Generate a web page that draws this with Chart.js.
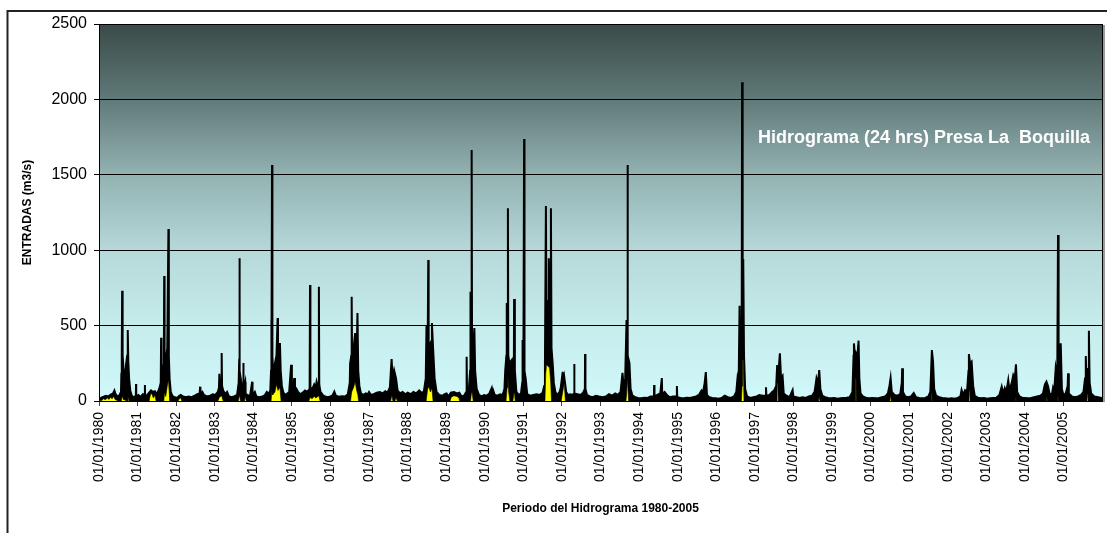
<!DOCTYPE html>
<html lang="es">
<head>
<meta charset="utf-8">
<title>Hidrograma Presa La Boquilla</title>
<script src="https://cdn.jsdelivr.net/npm/chart.js@4.4.0/dist/chart.umd.min.js"></script>
<style>
  html, body { margin: 0; padding: 0; background: #fff; }
  #marco { width: 1107px; height: 533px; }
</style>
</head>
<body>
<div id="marco"><canvas id="grafico"></canvas></div>
<script>
// años que llevan etiqueta en el eje X
const anios = [1980, 1981, 1982, 1983, 1984, 1985, 1986, 1987, 1988, 1989, 1990, 1991, 1992,
  1993, 1994, 1995, 1996, 1997, 1998, 1999, 2000, 2001, 2002, 2003, 2004, 2005];
const etiquetasX = anios.map(a => '01/01/' + a);

const entradas = [
  [1980.00, 8], [1980.06, 22], [1980.12, 28], [1980.18, 35], [1980.24, 30], [1980.30, 42], [1980.36, 48],
  [1980.40, 70], [1980.43, 45], [1980.48, 30], [1980.53, 38], [1980.57, 60], [1980.58, 180], [1980.59, 300],
  [1980.60, 731], [1980.605, 240], [1980.62, 305], [1980.64, 190], [1980.67, 150], [1980.70, 240], [1980.73, 300],
  [1980.745, 470], [1980.76, 260], [1980.78, 150], [1980.81, 70], [1980.85, 35], [1980.90, 25], [1980.955, 35],
  [1980.96, 113], [1980.965, 30], [1981.02, 40], [1981.08, 28], [1981.14, 45], [1981.185, 35], [1981.19, 106],
  [1981.195, 30], [1981.25, 40], [1981.30, 55], [1981.35, 70], [1981.40, 60], [1981.45, 65], [1981.50, 45],
  [1981.56, 80], [1981.60, 120], [1981.61, 420], [1981.62, 150], [1981.65, 194], [1981.68, 250], [1981.69, 829],
  [1981.70, 300], [1981.73, 272], [1981.77, 350], [1981.80, 1140], [1981.81, 300], [1981.83, 150], [1981.86, 60],
  [1981.90, 35], [1981.96, 25], [1982.03, 20], [1982.08, 35], [1982.12, 40], [1982.18, 30], [1982.25, 25],
  [1982.32, 30], [1982.40, 25], [1982.48, 35], [1982.55, 45], [1982.61, 50], [1982.62, 95], [1982.63, 40],
  [1982.68, 60], [1982.72, 40], [1982.80, 30], [1982.88, 35], [1982.95, 45], [1983.02, 40], [1983.08, 60],
  [1983.11, 90], [1983.12, 180], [1983.14, 80], [1983.175, 100], [1983.18, 318], [1983.19, 100], [1983.22, 70],
  [1983.27, 45], [1983.32, 60], [1983.36, 35], [1983.42, 25], [1983.50, 30], [1983.58, 40], [1983.62, 120],
  [1983.635, 280], [1983.64, 946], [1983.65, 200], [1983.69, 120], [1983.735, 90], [1983.74, 252], [1983.75, 80],
  [1983.79, 128], [1983.80, 50], [1983.86, 35], [1983.92, 40], [1983.97, 128], [1983.98, 40],
  [1984.04, 60], [1984.08, 30], [1984.16, 25], [1984.24, 30], [1984.30, 40], [1984.35, 60], [1984.40, 45],
  [1984.44, 70], [1984.46, 200], [1984.465, 537], [1984.475, 250], [1984.485, 1565], [1984.495, 300],
  [1984.52, 150], [1984.56, 250], [1984.60, 300], [1984.63, 550], [1984.64, 250], [1984.67, 300], [1984.69, 385],
  [1984.71, 200], [1984.74, 100], [1984.78, 55], [1984.83, 40], [1984.88, 50], [1984.93, 60], [1984.98, 240],
  [1985.00, 70], [1985.04, 90], [1985.06, 152], [1985.08, 60], [1985.12, 80], [1985.16, 60], [1985.22, 45],
  [1985.28, 55], [1985.34, 70], [1985.40, 60], [1985.46, 80], [1985.47, 769], [1985.48, 90], [1985.53, 80],
  [1985.58, 110], [1985.62, 90], [1985.64, 128], [1985.67, 100], [1985.695, 120], [1985.70, 758], [1985.71, 110],
  [1985.74, 60], [1985.80, 40], [1985.86, 30], [1985.93, 25],
  [1986.00, 30], [1986.06, 40], [1986.10, 62], [1986.14, 35], [1986.22, 28], [1986.30, 32], [1986.38, 30],
  [1986.45, 45], [1986.50, 120], [1986.51, 250], [1986.54, 300], [1986.55, 692], [1986.56, 300], [1986.60, 350],
  [1986.64, 450], [1986.68, 300], [1986.70, 583], [1986.72, 200], [1986.75, 100], [1986.79, 50], [1986.85, 40],
  [1986.92, 50], [1986.97, 45], [1987.00, 60], [1987.05, 40], [1987.12, 45], [1987.20, 55], [1987.28, 60],
  [1987.35, 50], [1987.42, 65], [1987.48, 55], [1987.54, 90], [1987.585, 278], [1987.61, 150], [1987.65, 205],
  [1987.70, 150], [1987.74, 70], [1987.80, 50], [1987.87, 60], [1987.94, 45],
  [1988.00, 55], [1988.08, 45], [1988.15, 60], [1988.22, 50], [1988.30, 70], [1988.36, 55], [1988.42, 60],
  [1988.47, 150], [1988.49, 500], [1988.50, 200], [1988.52, 350], [1988.535, 935], [1988.545, 300], [1988.58, 380],
  [1988.62, 400], [1988.63, 517], [1988.66, 350], [1988.70, 150], [1988.75, 60], [1988.82, 40], [1988.90, 35],
  [1988.96, 45], [1989.01, 50], [1989.06, 30], [1989.12, 55], [1989.20, 60], [1989.28, 50], [1989.34, 55],
  [1989.40, 30], [1989.46, 35], [1989.52, 60], [1989.53, 294], [1989.54, 60], [1989.59, 90], [1989.62, 200],
  [1989.63, 725], [1989.645, 300], [1989.66, 1665], [1989.67, 400], [1989.70, 350], [1989.73, 484], [1989.75, 200],
  [1989.79, 80], [1989.85, 40], [1989.92, 30], [1989.98, 40],
  [1990.05, 35], [1990.12, 50], [1990.18, 86], [1990.20, 45], [1990.22, 70], [1990.26, 40], [1990.33, 35],
  [1990.40, 45], [1990.46, 40], [1990.51, 80], [1990.53, 200], [1990.56, 300], [1990.57, 650], [1990.585, 300],
  [1990.60, 1278], [1990.61, 300], [1990.64, 250], [1990.70, 272], [1990.73, 150], [1990.755, 300], [1990.76, 676],
  [1990.78, 200], [1990.82, 60], [1990.88, 40], [1990.94, 50], [1990.97, 120], [1990.98, 404], [1991.00, 150],
  [1991.02, 1737], [1991.03, 200], [1991.06, 150], [1991.10, 45], [1991.18, 35], [1991.26, 40], [1991.34, 45],
  [1991.42, 40], [1991.50, 55], [1991.54, 100], [1991.56, 250], [1991.585, 1293], [1991.60, 500], [1991.62, 670],
  [1991.64, 400], [1991.66, 946], [1991.68, 450], [1991.70, 400], [1991.715, 1278], [1991.73, 350], [1991.76, 250],
  [1991.79, 120], [1991.83, 60], [1991.88, 40], [1991.94, 60], [1991.97, 90], [1992.00, 150], [1992.02, 194],
  [1992.04, 130], [1992.06, 160], [1992.08, 120], [1992.11, 60], [1992.16, 40], [1992.22, 45], [1992.28, 40],
  [1992.315, 50], [1992.32, 245], [1992.325, 50], [1992.40, 45], [1992.48, 40], [1992.55, 55], [1992.595, 80],
  [1992.60, 311], [1992.61, 80], [1992.65, 40], [1992.72, 30], [1992.80, 25], [1992.88, 35], [1992.96, 30],
  [1993.05, 25], [1993.14, 30], [1993.22, 45], [1993.30, 35], [1993.38, 50], [1993.45, 40], [1993.52, 60],
  [1993.57, 186], [1993.60, 100], [1993.64, 150], [1993.675, 537], [1993.69, 300], [1993.70, 1565], [1993.71, 300],
  [1993.75, 252], [1993.78, 80], [1993.83, 35], [1993.90, 25], [1993.97, 20],
  [1994.06, 18], [1994.14, 22], [1994.22, 20], [1994.30, 30], [1994.385, 30], [1994.39, 106], [1994.40, 30],
  [1994.47, 40], [1994.55, 50], [1994.59, 152], [1994.60, 45], [1994.66, 60], [1994.72, 40], [1994.80, 25],
  [1994.88, 30], [1994.975, 30], [1994.98, 99], [1994.99, 25],
  [1995.08, 20], [1995.16, 18], [1995.24, 22], [1995.32, 20], [1995.40, 25], [1995.48, 30], [1995.55, 40],
  [1995.62, 70], [1995.66, 60], [1995.70, 120], [1995.73, 192], [1995.76, 40], [1995.82, 25], [1995.90, 20],
  [1995.98, 18],
  [1996.06, 15], [1996.14, 20], [1996.22, 35], [1996.30, 25], [1996.38, 20], [1996.46, 30], [1996.52, 60],
  [1996.55, 146], [1996.58, 100], [1996.605, 632], [1996.62, 200], [1996.66, 400], [1996.67, 2113], [1996.685, 500],
  [1996.70, 942], [1996.72, 300], [1996.75, 80], [1996.80, 30], [1996.88, 20], [1996.96, 25],
  [1997.05, 30], [1997.12, 40], [1997.20, 35], [1997.285, 35], [1997.29, 91], [1997.30, 35], [1997.38, 40],
  [1997.45, 60], [1997.50, 70], [1997.555, 100], [1997.58, 239], [1997.61, 180], [1997.65, 316], [1997.68, 150],
  [1997.72, 166], [1997.75, 50], [1997.82, 35], [1997.90, 25], [1997.98, 73], [1998.00, 30],
  [1998.08, 25], [1998.16, 20], [1998.24, 25], [1998.32, 20], [1998.40, 30], [1998.48, 35], [1998.55, 60],
  [1998.60, 152], [1998.64, 120], [1998.67, 205], [1998.70, 80], [1998.75, 35], [1998.82, 25], [1998.90, 20],
  [1998.97, 18],
  [1999.06, 20], [1999.14, 15], [1999.22, 18], [1999.30, 20], [1999.38, 22], [1999.46, 25], [1999.53, 60],
  [1999.56, 300], [1999.57, 382], [1999.60, 280], [1999.62, 320], [1999.66, 300], [1999.69, 400], [1999.71, 150],
  [1999.74, 50], [1999.80, 30], [1999.88, 22], [1999.96, 18],
  [2000.05, 20], [2000.14, 18], [2000.22, 20], [2000.30, 25], [2000.38, 30], [2000.45, 50], [2000.49, 100],
  [2000.52, 152], [2000.55, 60], [2000.62, 40], [2000.70, 35], [2000.77, 45], [2000.81, 120], [2000.82, 217],
  [2000.84, 60], [2000.90, 30], [2000.97, 25],
  [2001.05, 30], [2001.12, 53], [2001.18, 25], [2001.26, 20], [2001.34, 18], [2001.42, 20], [2001.50, 30],
  [2001.55, 60], [2001.59, 338], [2001.62, 261], [2001.65, 80], [2001.70, 35], [2001.78, 25], [2001.86, 20],
  [2001.94, 18],
  [2002.02, 15], [2002.10, 18], [2002.18, 15], [2002.26, 20], [2002.33, 30], [2002.36, 73], [2002.40, 40],
  [2002.45, 72], [2002.50, 60], [2002.54, 200], [2002.55, 311], [2002.58, 250], [2002.62, 261], [2002.66, 100],
  [2002.70, 35], [2002.78, 22], [2002.86, 18], [2002.94, 20],
  [2003.02, 15], [2003.10, 18], [2003.18, 20], [2003.26, 22], [2003.34, 40], [2003.40, 95], [2003.44, 50],
  [2003.48, 86], [2003.52, 60], [2003.57, 139], [2003.60, 70], [2003.66, 120], [2003.70, 172], [2003.74, 150],
  [2003.77, 243], [2003.80, 60], [2003.86, 30], [2003.93, 22],
  [2004.00, 20], [2004.08, 18], [2004.16, 20], [2004.24, 25], [2004.32, 30], [2004.40, 35], [2004.47, 50],
  [2004.52, 110], [2004.56, 128], [2004.60, 100], [2004.64, 50], [2004.70, 40], [2004.73, 86], [2004.76, 60],
  [2004.80, 217], [2004.84, 150], [2004.86, 1100], [2004.875, 200], [2004.90, 250], [2004.93, 382], [2004.96, 80],
  [2005.00, 40], [2005.06, 50], [2005.11, 100], [2005.12, 183], [2005.14, 50], [2005.22, 30], [2005.30, 25],
  [2005.38, 30], [2005.46, 40], [2005.52, 60], [2005.56, 150], [2005.58, 298], [2005.60, 120], [2005.63, 218],
  [2005.645, 150], [2005.66, 466], [2005.68, 120], [2005.72, 50], [2005.80, 30], [2005.90, 25], [2006.00, 20]
];

// serie amarilla (gastos menores que aparecen al frente)
const serieAmarilla = [
  [1980.00, 0], [1980.08, 5], [1980.12, 15], [1980.16, 8], [1980.22, 20], [1980.26, 10], [1980.30, 25],
  [1980.34, 15], [1980.38, 30], [1980.42, 10], [1980.50, 0], [1980.58, 0], [1980.60, 35], [1980.63, 10],
  [1980.73, 0], [1980.75, 30], [1980.78, 0],
  [1981.30, 0], [1981.33, 40], [1981.37, 50], [1981.41, 20], [1981.45, 40], [1981.48, 0], [1981.68, 0],
  [1981.70, 60], [1981.73, 30], [1981.77, 100], [1981.80, 140], [1981.82, 60], [1981.84, 0],
  [1982.05, 0], [1982.08, 15], [1982.12, 20], [1982.15, 0],
  [1983.08, 0], [1983.12, 25], [1983.18, 35], [1983.22, 0], [1983.61, 0], [1983.64, 40], [1983.67, 0],
  [1983.77, 0], [1983.79, 30], [1983.82, 0],
  [1984.46, 0], [1984.485, 80], [1984.50, 40], [1984.56, 60], [1984.60, 110], [1984.64, 70], [1984.69, 90],
  [1984.72, 0],
  [1985.44, 0], [1985.47, 25], [1985.52, 15], [1985.58, 30], [1985.62, 20], [1985.70, 35], [1985.73, 0],
  [1986.52, 0], [1986.55, 60], [1986.60, 90], [1986.64, 128], [1986.68, 70], [1986.71, 40], [1986.73, 0],
  [1987.56, 0], [1987.59, 40], [1987.62, 0], [1987.67, 0], [1987.70, 25], [1987.73, 0],
  [1988.48, 0], [1988.52, 80], [1988.55, 95], [1988.59, 60], [1988.63, 85], [1988.66, 0],
  [1989.10, 0], [1989.13, 25], [1989.20, 35], [1989.28, 30], [1989.33, 20], [1989.35, 0], [1989.63, 0],
  [1989.655, 55], [1989.675, 55], [1989.70, 0],
  [1990.55, 0], [1990.58, 90], [1990.60, 172], [1990.62, 60], [1990.65, 0], [1990.73, 0], [1990.755, 53],
  [1990.77, 53], [1990.79, 0],
  [1991.56, 0], [1991.58, 180], [1991.60, 240], [1991.64, 230], [1991.68, 220], [1991.71, 120], [1991.73, 0],
  [1991.98, 0], [1992.02, 60], [1992.06, 120], [1992.09, 0],
  [1993.66, 0], [1993.68, 60], [1993.695, 152], [1993.71, 152], [1993.73, 0],
  [1996.65, 0], [1996.67, 100], [1996.685, 270], [1996.70, 270], [1996.72, 0],
  [1997.56, 0], [1997.575, 120], [1997.59, 120], [1997.61, 0],
  [1998.65, 0], [1998.665, 30], [1998.68, 30], [1998.69, 0],
  [1999.60, 0], [1999.615, 150], [1999.63, 150], [1999.645, 0],
  [2000.50, 0], [2000.515, 40], [2000.53, 40], [2000.54, 0],
  [2001.57, 0], [2001.585, 50], [2001.60, 50], [2001.61, 0],
  [2002.55, 0], [2002.565, 73], [2002.58, 73], [2002.59, 0],
  [2003.75, 0], [2003.765, 20], [2003.78, 20], [2003.79, 0],
  [2004.56, 0], [2004.575, 30], [2004.59, 30], [2004.60, 0],
  [2004.84, 0], [2004.855, 30], [2004.87, 30], [2004.88, 0],
  [2005.61, 0], [2005.625, 46], [2005.64, 46], [2005.65, 0],
  [2006.00, 0]
];

const ticksY = [0, 500, 1000, 1500, 2000, 2500];

const fuente = "'Liberation Sans', Arial, sans-serif";

// fondo degradado del área de trazado, marco y rótulo
const fondoYMarco = {
  id: 'fondoYMarco',
  beforeDraw(chart) {
    const { ctx, chartArea: a } = chart;
    ctx.save();
    ctx.fillStyle = '#ffffff';
    ctx.fillRect(0, 0, chart.width, chart.height);
    const g = ctx.createLinearGradient(0, a.top, 0, a.bottom);
    g.addColorStop(0, '#3a4a48');
    g.addColorStop(0.2, '#607a79');
    g.addColorStop(0.3, '#7b9696');
    g.addColorStop(0.4, '#93b2b2');
    g.addColorStop(0.6, '#b6d8d8');
    g.addColorStop(0.8, '#c6ecec');
    g.addColorStop(1, '#d1f8fa');
    ctx.fillStyle = g;
    ctx.fillRect(a.left, a.top, a.right - a.left, a.bottom - a.top);
    ctx.restore();
  },
  afterDraw(chart) {
    const { ctx, chartArea: a } = chart;
    ctx.save();
    // sombra y borde derecho del área de trazado
    ctx.strokeStyle = '#9a9a9a';
    ctx.lineWidth = 2;
    ctx.beginPath();
    ctx.moveTo(a.right + 2, a.top + 1);
    ctx.lineTo(a.right + 2, a.bottom + 1);
    ctx.stroke();
    ctx.strokeStyle = '#000';
    ctx.lineWidth = 1;
    ctx.beginPath();
    ctx.moveTo(a.right + 0.5, a.top);
    ctx.lineTo(a.right + 0.5, a.bottom);
    ctx.stroke();
    // marco exterior
    ctx.strokeStyle = '#222';
    ctx.lineWidth = 2;
    ctx.beginPath();
    ctx.moveTo(7.5, chart.height);
    ctx.lineTo(7.5, 11);
    ctx.lineTo(chart.width, 11);
    ctx.stroke();
    // rótulo
    ctx.fillStyle = '#ffffff';
    ctx.font = 'bold 18px ' + fuente;
    ctx.textBaseline = 'alphabetic';
    ctx.textAlign = 'left';
    ctx.fillText('Hidrograma (24 hrs) Presa La  Boquilla', 758, 143);
    ctx.restore();
  }
};

const ctx = document.getElementById('grafico').getContext('2d');
new Chart(ctx, {
  type: 'line',
  data: {
    datasets: [
      {
        label: 'Serie amarilla',
        data: serieAmarilla.map(p => ({ x: p[0], y: p[1] })),
        borderColor: '#000',
        borderWidth: 0.6,
        backgroundColor: '#ffff00',
        fill: 'origin',
        pointRadius: 0,
        tension: 0
      },
      {
        label: 'Entradas',
        data: entradas.map(p => ({ x: p[0], y: p[1] })),
        borderColor: '#000',
        borderWidth: 2,
        backgroundColor: '#000',
        fill: 'origin',
        pointRadius: 0,
        tension: 0
      }
    ]
  },
  options: {
    responsive: true,
    maintainAspectRatio: false,
    animation: false,
    events: [],
    layout: { padding: { top: 24, right: 5, left: 0, bottom: 0 } },
    plugins: {
      legend: { display: false },
      tooltip: { enabled: false }
    },
    scales: {
      x: {
        type: 'linear',
        min: 1980,
        max: 2006,
        afterBuildTicks: s => { s.ticks = anios.map(a => ({ value: a })); },
        afterFit: s => { s.height = 132; },
        ticks: {
          autoSkip: false,
          minRotation: 90,
          maxRotation: 90,
          padding: 6,
          color: '#000',
          font: { family: fuente, size: 14 },
          callback: v => etiquetasX[anios.indexOf(v)]
        },
        grid: { drawOnChartArea: false, tickLength: 5, color: '#444' },
        border: { color: '#000', width: 1 },
        title: {
          display: true,
          text: 'Periodo del Hidrograma 1980-2005',
          color: '#000',
          font: { family: fuente, size: 12, weight: 'bold' },
          padding: { top: 0, bottom: 17 }
        }
      },
      y: {
        min: 0,
        max: 2500,
        afterBuildTicks: s => { s.ticks = ticksY.map(v => ({ value: v })); },
        afterFit: s => { s.width = 99; },
        ticks: {
          color: '#000',
          padding: 7,
          font: { family: fuente, size: 16 },
          callback: v => String(v)
        },
        grid: { color: '#000', lineWidth: 1, tickLength: 5 },
        border: { color: '#000', width: 1 },
        title: {
          display: true,
          text: 'ENTRADAS (m3/s)',
          color: '#000',
          font: { family: fuente, size: 12, weight: 'bold' },
          padding: { top: 20, bottom: 0 }
        }
      }
    }
  },
  plugins: [fondoYMarco]
});
</script>
</body>
</html>
